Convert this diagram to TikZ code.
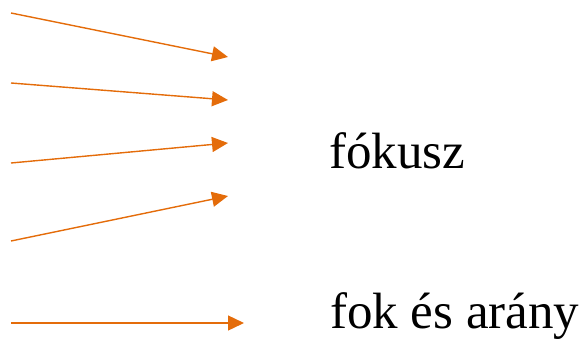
\documentclass[tikz,border=0pt]{standalone}
\usepackage{fontspec}
\setmainfont{Liberation Serif}
\usepackage{xcolor}
\usetikzlibrary{arrows.meta}
\definecolor{rayorange}{HTML}{E46C0A}
\begin{document}
\begin{tikzpicture}[x=1pt,y=-1pt,
    ray/.style={rayorange, line width=1.4pt, -{Triangle[length=16pt,width=15pt]}},
    label/.style={anchor=base west, inner sep=0pt, font=\fontsize{51}{61}\selectfont}]
                % Frame
                \useasboundingbox (0,0) rectangle (588,348);
                
                % Start and end points of the rays
                \coordinate (s1) at (11,13);
                \coordinate (e1) at (228,57);
                \coordinate (s2) at (11,83);
                \coordinate (e2) at (228,100);
                \coordinate (s3) at (11,163);
                \coordinate (e3) at (228,143);
                \coordinate (s4) at (11,241);
                \coordinate (e4) at (228,196);
                \coordinate (s5) at (11,323);
                \coordinate (e5) at (244,323);
                
                % Converging rays
                \draw[ray] (s1) -- (e1);
                \draw[ray] (s2) -- (e2);
                \draw[ray] (s3) -- (e3);
                \draw[ray] (s4) -- (e4);
                % Parallel ray
                \draw[ray] (s5) -- (e5);
                
                % Labels
                \node[label] (focus) at (329,168) {fókusz};
                \node[label] (ratio) at (330,328) {fok és arány};
            \end{tikzpicture}
\end{document}
